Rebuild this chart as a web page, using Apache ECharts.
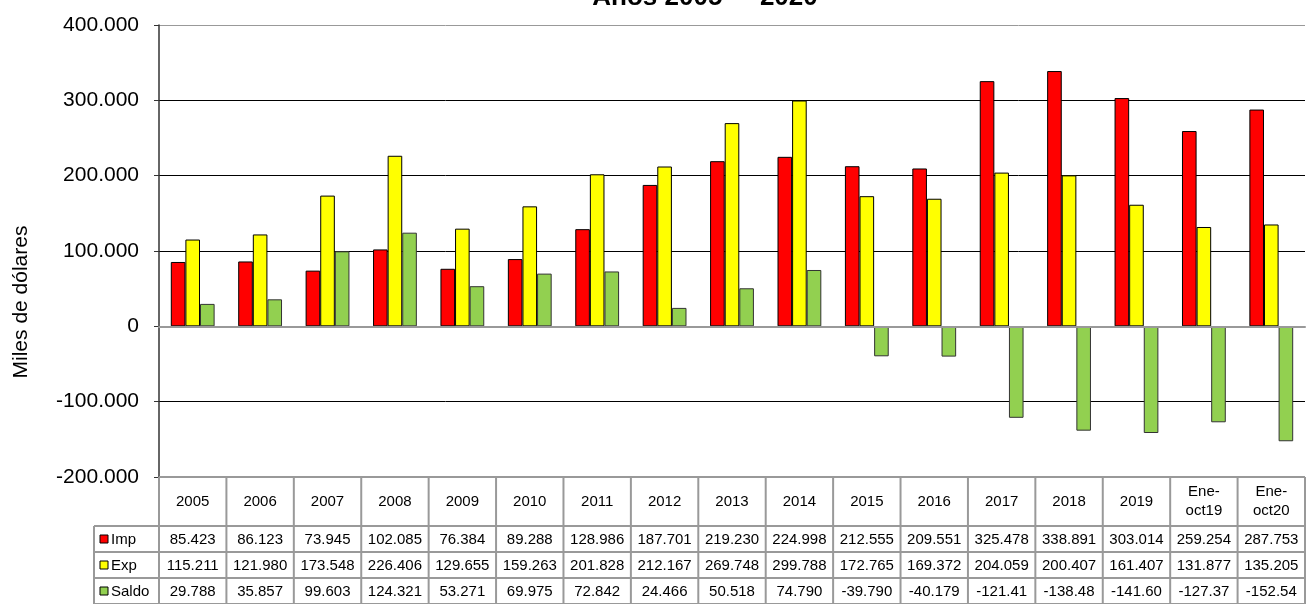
<!DOCTYPE html>
<html>
<head>
<meta charset="utf-8">
<script src="https://cdn.jsdelivr.net/npm/echarts@6/dist/echarts.min.js"></script>
<style>
  html, body { margin: 0; padding: 0; background: #fff; }
  #chartmain { width: 1307px; height: 604px; }
</style>
</head>
<body>
<div id="chartmain"></div>
<script>
// categorias y series
var categorias = ['2005','2006','2007','2008','2009','2010','2011','2012','2013','2014','2015','2016','2017','2018','2019','Ene-\noct19','Ene-\noct20'];
var imp   = [85423, 86123, 73945, 102085, 76384, 89288, 128986, 187701, 219230, 224998, 212555, 209551, 325478, 338891, 303014, 259254, 287753];
var exp   = [115211, 121980, 173548, 226406, 129655, 159263, 201828, 212167, 269748, 299788, 172765, 169372, 204059, 200407, 161407, 131877, 135205];
var saldo = [29788, 35857, 99603, 124321, 53271, 69975, 72842, 24466, 50518, 74790, -39790, -40179, -121419, -138484, -141607, -127377, -152548];
var nombres = ['Imp', 'Exp', 'Saldo'];
var colores = ['#ff0000', '#ffff00', '#92d050'];

var L = 159, R = 1305, T = 25, B = 477; // area del grafico
var fuente = '15px Arial, "Liberation Sans"';

// formato 400000 -> "400.000"
function fmt(v) {
    var s = Math.abs(Math.round(v)).toString().replace(/\B(?=(\d{3})+(?!\d))/g, '.');
    return (v < 0 ? '-' : '') + s;
}

// tabla de datos debajo del grafico
function tabla() {
    var g = [];
    var n = categorias.length;
    var w = (R - L) / n;
    var filas = [imp, exp, saldo];
    var yH = [B, 526, 552, 578, 604];
    var linea = { stroke: '#999', lineWidth: 2 };
    // lineas horizontales
    g.push({ type: 'line', shape: { x1: L, y1: B, x2: R, y2: B }, style: linea, z: 10 });
    for (var k = 1; k < yH.length; k++) {
        g.push({ type: 'line', shape: { x1: 94, y1: yH[k], x2: R, y2: yH[k] }, style: linea, z: 10 });
    }
    // lineas verticales
    g.push({ type: 'line', shape: { x1: 94, y1: 526, x2: 94, y2: 604 }, style: linea, z: 10 });
    for (var i = 0; i <= n; i++) {
        var x = L + i * w;
        g.push({ type: 'line', shape: { x1: x, y1: B, x2: x, y2: 604 }, style: linea, z: 10 });
    }
    // encabezados
    for (var i = 0; i < n; i++) {
        g.push({ type: 'text', x: L + (i + 0.5) * w, y: (B + 526) / 2, z: 11,
            style: { text: categorias[i], font: fuente, fill: '#000',
                     align: 'center', verticalAlign: 'middle', lineHeight: 19 } });
    }
    // filas
    for (var r = 0; r < 3; r++) {
        var yc = (yH[r + 1] + yH[r + 2]) / 2;
        g.push({ type: 'rect', shape: { x: 100, y: yc - 4, width: 8, height: 8 }, z: 11,
            style: { fill: colores[r], stroke: '#000', lineWidth: 1 } });
        g.push({ type: 'text', x: 111, y: yc + 1, z: 11,
            style: { text: nombres[r], font: fuente, fill: '#000',
                     align: 'left', verticalAlign: 'middle' } });
        for (var i = 0; i < n; i++) {
            g.push({ type: 'text', x: L + (i + 0.5) * w, y: yc + 1, z: 11,
                style: { text: fmt(filas[r][i]).slice(0, 7), font: fuente, fill: '#000',
                         align: 'center', verticalAlign: 'middle' } });
        }
    }
    // titulo y nombre del eje
    g.push({ type: 'text', x: 705, y: -2, z: 11,
        style: { text: 'Años 2005  -  2020', font: 'bold 26px Arial, "Liberation Sans"', fill: '#000',
                 align: 'center', verticalAlign: 'middle' } });
    g.push({ type: 'text', x: 21, y: 302, rotation: Math.PI / 2, z: 11,
        style: { text: 'Miles de dólares', font: '21px Arial, "Liberation Sans"', fill: '#000',
                 align: 'center', verticalAlign: 'middle' } });
    return g;
}

var series = [imp, exp, saldo].map(function (d, i) {
    return {
        name: nombres[i],
        type: 'bar',
        data: d,
        barGap: '0%',
        barCategoryGap: '35%',
        itemStyle: { color: colores[i], borderColor: i == 2 ? '#333' : '#000', borderWidth: 1 }
    };
});

var option = {
    animation: false,
    grid: { left: L, right: 1307 - R, top: T, bottom: 604 - B, containLabel: false },
    xAxis: {
        type: 'category',
        data: categorias,
        axisLine: { show: true, onZero: true, lineStyle: { color: '#999', width: 2 } },
        axisTick: { show: false },
        axisLabel: { show: false },
        splitLine: { show: false },
        z: 5
    },
    yAxis: {
        type: 'value',
        min: -200000,
        max: 400000,
        interval: 100000,
        axisLine: { show: true, lineStyle: { color: '#333', width: 1.5 } },
        axisTick: { show: true, inside: false, length: 5, lineStyle: { color: '#333' } },
        axisLabel: { formatter: fmt, fontSize: 21, color: '#000', margin: 20,
                     fontFamily: 'Arial, "Liberation Sans"' },
        splitLine: { show: true, lineStyle: { color: ['#999', '#000', '#999', '#000', '#000', '#000', '#999'], width: 1 } }
    },
    series: series,
    graphic: tabla()
};

var myChart = echarts.init(document.getElementById('chartmain'));
myChart.setOption(option);
</script>
</body>
</html>
